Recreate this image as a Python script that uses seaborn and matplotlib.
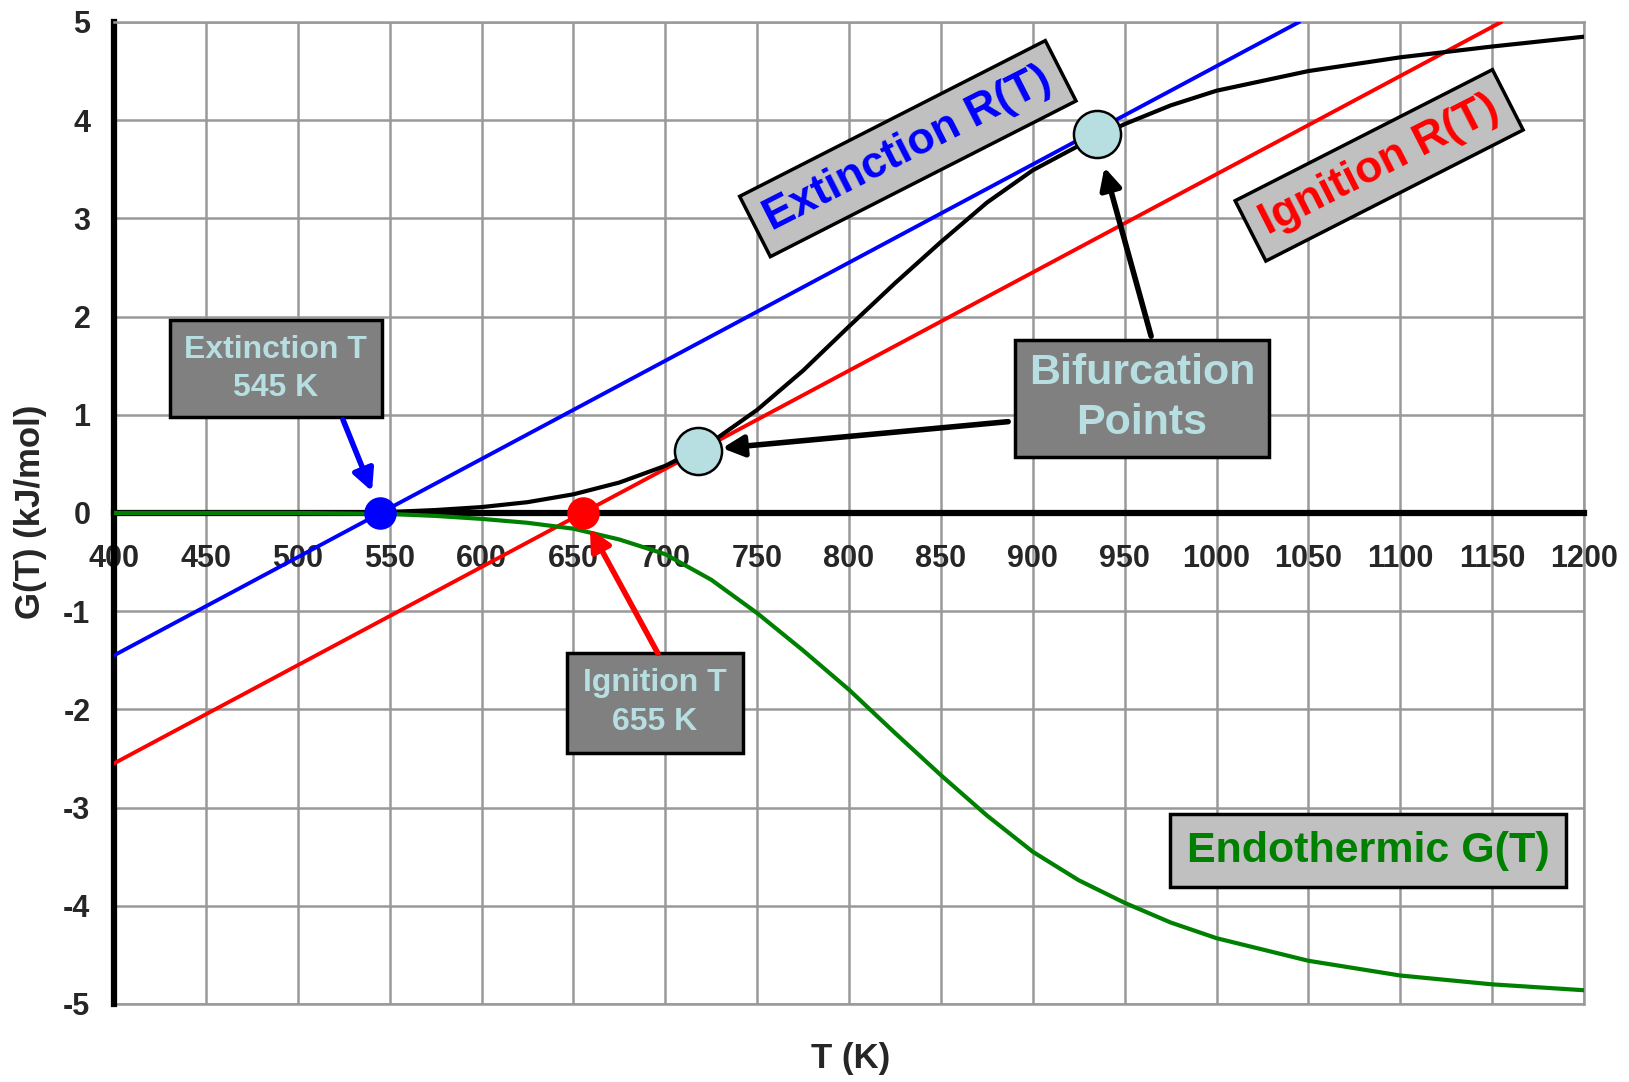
import matplotlib
matplotlib.use("Agg")
import matplotlib.pyplot as plt
import seaborn as sns
from matplotlib.ticker import MultipleLocator

# exothermic G(T)
T_exo = [400, 450, 500, 525, 550, 575, 600, 625, 650, 675, 700, 725, 750, 775,
         800, 825, 850, 875, 900, 925, 950, 975, 1000, 1050, 1100, 1150, 1200]
G_exo = [0.0, 0.0, 0.0, 0.005, 0.01, 0.03, 0.06, 0.11, 0.19, 0.31, 0.48, 0.72, 1.05, 1.45,
         1.90, 2.34, 2.76, 3.16, 3.49, 3.74, 3.96, 4.15, 4.30, 4.50, 4.64, 4.75, 4.85]

# endothermic G(T), green curve
T_endo = [400, 450, 500, 525, 550, 575, 600, 625, 650, 675, 700, 725, 750, 775,
          800, 825, 850, 875, 900, 925, 950, 975, 1000, 1050, 1100, 1150, 1200]
G_endo = [0.0, 0.0, 0.0, -0.005, -0.01, -0.03, -0.06, -0.10, -0.16, -0.27, -0.42, -0.68, -1.02, -1.40,
          -1.80, -2.24, -2.67, -3.08, -3.45, -3.74, -3.97, -4.17, -4.33, -4.56, -4.71, -4.80, -4.86]

# removal lines R(T)
T_ext_line = [400, 1045]
R_ext_line = [-1.45, 5.0]
T_ign_line = [400, 1155]
R_ign_line = [-2.55, 5.0]

# special points
T_extinction = [545]
T_ignition = [655]
bif_T = [718, 935]
bif_G = [0.63, 3.86]

LIGHT_BLUE = "#B7DEE0"

sns.set_style("white")
plt.rcParams["font.family"] = ["Liberation Sans", "DejaVu Sans"]
plt.rcParams["font.weight"] = "bold"
plt.rcParams["axes.unicode_minus"] = False

fig = plt.figure(figsize=(16.29, 10.82), dpi=100)
ax = fig.add_axes([0.070, 0.0721, 0.9024, 0.9076])

sns.lineplot(x=T_ext_line, y=R_ext_line, ax=ax, color="#0000FF", lw=2.8, zorder=3)
sns.lineplot(x=T_ign_line, y=R_ign_line, ax=ax, color="#FF0000", lw=2.8, zorder=3)
sns.lineplot(x=T_exo, y=G_exo, ax=ax, color="black", lw=3, zorder=4)
sns.lineplot(x=T_endo, y=G_endo, ax=ax, color="#008000", lw=3, zorder=4)

sns.scatterplot(x=T_extinction, y=[0], ax=ax, s=470, color="#0000FF", edgecolor="#0000FF", zorder=6)
sns.scatterplot(x=T_ignition, y=[0], ax=ax, s=470, color="#FF0000", edgecolor="#FF0000", zorder=6)
sns.scatterplot(x=bif_T, y=bif_G, ax=ax, s=1150, color=LIGHT_BLUE, edgecolor="black",
                linewidth=1.8, zorder=7)

ax.set_xlim(400, 1200)
ax.set_ylim(-5, 5)
ax.set_xticks(range(400, 1201, 50))
ax.set_yticks(range(-5, 6))
ax.yaxis.set_minor_locator(MultipleLocator(0.25))
ax.set_axisbelow(True)
ax.grid(True, which="major", color="#999999", lw=1.8)
ax.axhline(-5, color="#999999", lw=1.8, clip_on=False, zorder=0.5)

for side in ["top", "right"]:
    ax.spines[side].set_color("#999999")
    ax.spines[side].set_linewidth(1.8)
ax.spines["left"].set_linewidth(4.5)
ax.spines["left"].set_color("black")
ax.spines["bottom"].set_position(("data", 0))
ax.spines["bottom"].set_linewidth(4.5)
ax.spines["bottom"].set_color("black")

ax.tick_params(axis="y", which="major", direction="out", length=11, width=4, labelsize=22, pad=6)
ax.tick_params(axis="y", which="minor", direction="out", length=9, width=4)
ax.tick_params(axis="x", which="major", direction="out", length=8, width=4, labelsize=22, pad=14)
ax.set_xlabel("")
ax.set_ylabel("")

fig.text(0.522, 0.022, "T (K)", ha="center", va="center", fontsize=25, fontweight="bold")
fig.text(0.019, 0.527, "G(T) (kJ/mol)", ha="center", va="center", rotation=90,
         fontsize=25, fontweight="bold")

# callout boxes
ax.text(488, 1.47, "Extinction T\n545 K", ha="center", va="center", fontsize=23,
        color=LIGHT_BLUE, linespacing=1.35, zorder=8,
        bbox=dict(boxstyle="square,pad=0.45", fc="#808080", ec="black", lw=2.5))
ax.text(694.4, -1.93, "Ignition T\n655 K", ha="center", va="center", fontsize=23,
        color=LIGHT_BLUE, linespacing=1.35, zorder=8,
        bbox=dict(boxstyle="square,pad=0.5", fc="#808080", ec="black", lw=2.5))
ax.text(959.5, 1.17, "Bifurcation\nPoints", ha="center", va="center", fontsize=31,
        color=LIGHT_BLUE, linespacing=1.3, zorder=8,
        bbox=dict(boxstyle="square,pad=0.32", fc="#808080", ec="black", lw=2.5))
ax.text(832, 3.71, "Extinction R(T)", ha="center", va="center", fontsize=32, rotation=27,
        rotation_mode="anchor", color="#0000FF", zorder=8,
        bbox=dict(boxstyle="square,pad=0.3", fc="#C0C0C0", ec="black", lw=2.5))
ax.text(1088.5, 3.54, "Ignition R(T)", ha="center", va="center", fontsize=32, rotation=27,
        rotation_mode="anchor", color="#FF0000", zorder=8,
        bbox=dict(boxstyle="square,pad=0.3", fc="#C0C0C0", ec="black", lw=2.5))
ax.text(1082.5, -3.44, "Endothermic G(T)", ha="center", va="center", fontsize=31,
        color="#008000", zorder=8,
        bbox=dict(boxstyle="square,pad=0.38", fc="#C0C0C0", ec="black", lw=2.5))

# arrows
arrow_kw = dict(arrowstyle="-|>", lw=4, mutation_scale=32, shrinkA=0, shrinkB=0)
ax.annotate("", xy=(540.4, 0.22), xytext=(524.6, 0.95), zorder=9,
            arrowprops=dict(color="#0000FF", **arrow_kw))
ax.annotate("", xy=(659, -0.16), xytext=(696, -1.43), zorder=9,
            arrowprops=dict(color="#FF0000", **arrow_kw))
ax.annotate("", xy=(731, 0.66), xytext=(886.6, 0.93), zorder=9,
            arrowprops=dict(color="black", **arrow_kw))
ax.annotate("", xy=(939, 3.52), xytext=(964.4, 1.80), zorder=9,
            arrowprops=dict(color="black", **arrow_kw))

fig.savefig("out.png", dpi=100)
